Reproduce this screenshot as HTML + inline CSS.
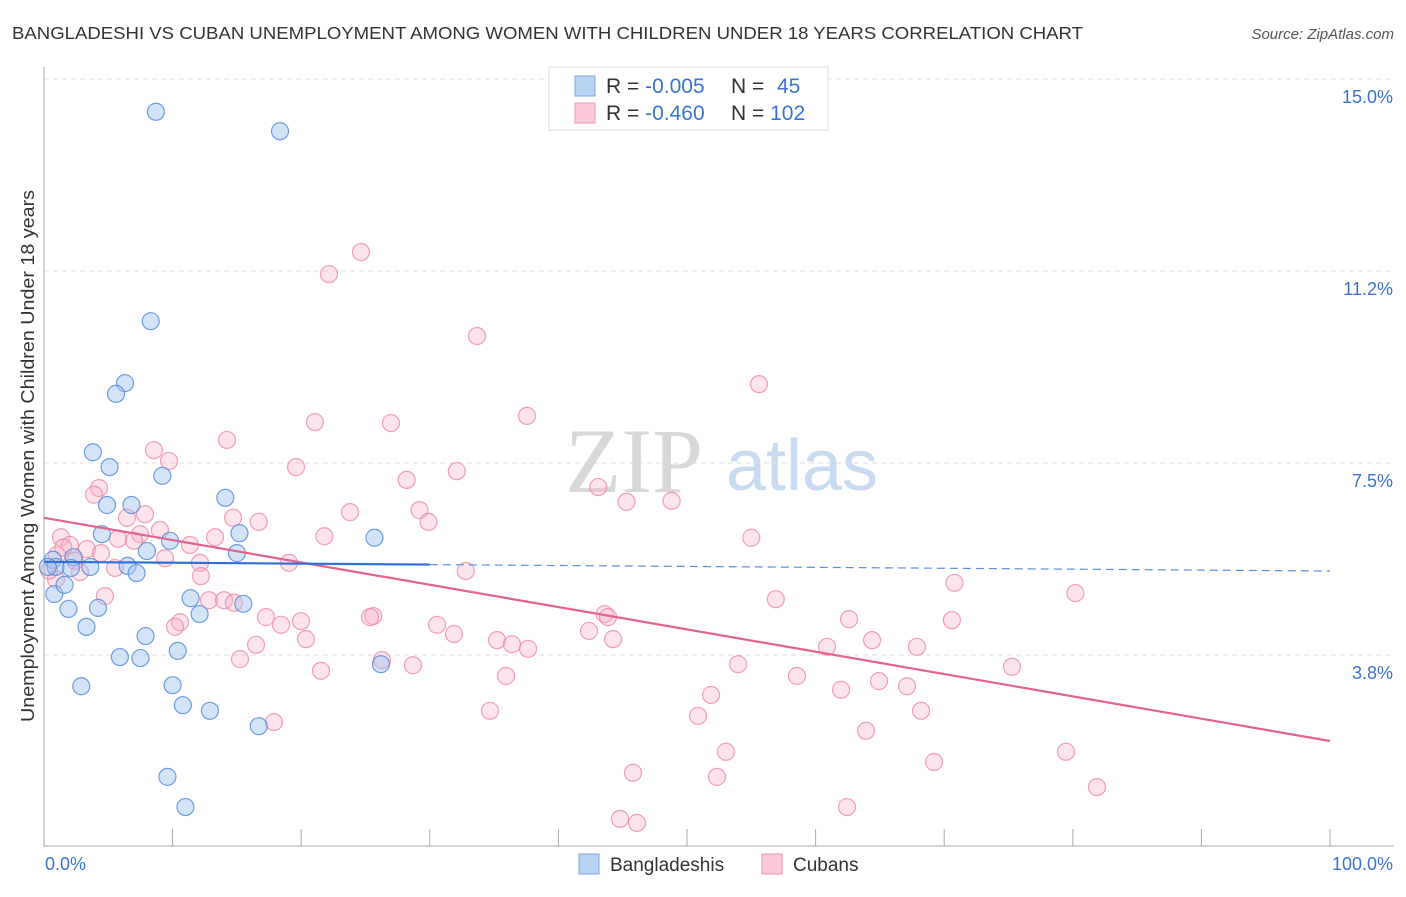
<!DOCTYPE html>
<html><head><meta charset="utf-8"><style>
body{margin:0;background:#fff;font-family:"Liberation Sans",sans-serif}
svg text{font-family:"Liberation Sans",sans-serif}
</style></head><body>
<svg id="c" width="1406" height="892" xmlns="http://www.w3.org/2000/svg">
<text x="12" y="39" font-size="17.5" fill="#333" textLength="1071" lengthAdjust="spacingAndGlyphs">BANGLADESHI VS CUBAN UNEMPLOYMENT AMONG WOMEN WITH CHILDREN UNDER 18 YEARS CORRELATION CHART</text>
<text x="1394" y="39" font-size="15" fill="#555" font-style="italic" text-anchor="end">Source: ZipAtlas.com</text>
<g>
<text x="634" y="492" font-size="92" fill="#d8d8d8" text-anchor="middle" style="font-family:'Liberation Serif',serif">ZIP</text>
<text x="802" y="490" font-size="72" fill="#c9dbf1" text-anchor="middle">atlas</text>
</g>
<g id="grid"></g>
<g id="axes"></g>
<g id="marks"></g>
<text transform="translate(34,456) rotate(-90)" font-size="18" fill="#333" text-anchor="middle" textLength="532" lengthAdjust="spacingAndGlyphs">Unemployment Among Women with Children Under 18 years</text>
<g>
<rect x="549" y="67" width="279" height="63" fill="#fff" stroke="#ddd"/>
<rect x="575" y="76" width="20" height="20" fill="#b9d3f3" stroke="#7aa7e4"/>
<rect x="575" y="103" width="20" height="20" fill="#fbcad8" stroke="#ee9ab3"/>
<text x="606" y="93" font-size="21" fill="#333">R = <tspan fill="#3a74d0">-0.005</tspan></text>
<text x="731" y="93" font-size="21" fill="#333">N = <tspan fill="#3a74d0" x="777">45</tspan></text>
<text x="606" y="120" font-size="21" fill="#333">R = <tspan fill="#3a74d0">-0.460</tspan></text>
<text x="731" y="120" font-size="21" fill="#333">N = <tspan fill="#3a74d0">102</tspan></text>
</g>
<g>
<rect x="579" y="854" width="20" height="20" fill="#b9d3f3" stroke="#7aa7e4"/>
<text x="610" y="871" font-size="19" fill="#333">Bangladeshis</text>
<rect x="762" y="854" width="20" height="20" fill="#fbcad8" stroke="#ee9ab3"/>
<text x="793" y="871" font-size="19" fill="#333">Cubans</text>
</g>
</svg>
<script>
const yTicks=[3.75,7.5,11.25,15];
const yTickLabels=["3.8%","7.5%","11.2%","15.0%"];
const xTicks=[0,10,20,30,40,50,60,70,80,90,100];
const bangX=[8.7,18.35,8.3,6.3,5.6,3.8,5.1,9.2,14.1,4.9,6.8,4.5,15.2,25.7,9.8,8.0,15.0,0.7,2.3,0.9,3.6,6.5,7.2,2.1,0.8,1.6,1.9,4.2,11.4,15.5,12.1,3.3,7.9,10.4,5.9,7.5,26.2,2.9,10.0,10.8,12.9,16.7,9.6,11.0,0.3];
const bangY=[14.36,13.98,10.27,9.06,8.85,7.71,7.42,7.25,6.82,6.68,6.68,6.11,6.13,6.04,5.98,5.78,5.74,5.61,5.66,5.47,5.47,5.49,5.35,5.45,4.94,5.12,4.65,4.67,4.86,4.75,4.55,4.30,4.12,3.83,3.71,3.69,3.57,3.14,3.16,2.77,2.66,2.36,1.37,0.78,5.47];
const cubX=[24.65,22.16,33.67,55.6,37.56,21.07,26.98,14.23,8.55,9.72,19.6,32.1,28.2,43.1,4.28,3.89,45.3,48.8,29.2,23.8,7.85,6.45,14.7,29.9,16.7,9.02,7.47,1.32,5.75,21.8,55.0,13.3,7.0,2.02,3.34,11.35,4.43,9.41,2.41,19.05,5.52,12.13,32.8,2.8,12.2,70.8,0.93,80.2,56.9,4.74,12.83,14.0,14.77,43.6,25.6,25.35,17.26,19.98,43.86,62.6,70.6,10.58,10.19,18.43,30.56,31.88,42.38,20.37,35.23,44.25,36.39,64.39,60.89,37.64,67.88,15.24,26.28,16.49,28.69,53.97,75.27,21.54,35.93,58.55,64.93,61.98,67.11,51.87,34.68,68.2,50.86,17.88,63.92,53.03,79.47,69.21,45.8,52.33,81.88,62.44,44.79,46.11,1.0,0.4,1.5];
const cubY=[11.62,11.19,9.98,9.04,8.42,8.30,8.28,7.95,7.75,7.54,7.42,7.34,7.17,7.03,7.01,6.88,6.74,6.76,6.58,6.54,6.50,6.43,6.43,6.35,6.35,6.19,6.11,6.05,6.02,6.07,6.04,6.05,5.98,5.90,5.82,5.90,5.74,5.64,5.59,5.55,5.45,5.55,5.39,5.37,5.29,5.16,5.23,4.96,4.84,4.90,4.82,4.82,4.77,4.55,4.51,4.49,4.49,4.41,4.49,4.45,4.43,4.39,4.30,4.34,4.34,4.16,4.22,4.06,4.04,4.06,3.96,4.04,3.91,3.87,3.91,3.67,3.65,3.95,3.55,3.57,3.52,3.44,3.34,3.34,3.24,3.07,3.14,2.97,2.66,2.66,2.56,2.44,2.27,1.86,1.86,1.66,1.45,1.37,1.17,0.78,0.55,0.47,5.7,5.4,5.85];
const bangTrend=[5.57,5.39];
const cubTrend=[6.43,2.07];
const X0=44,X1=1330,Y0=847,YPX=51.2;
function sx(v){return X0+(X1-X0)*v/100;}
function sy(v){return Y0-v*YPX;}
const NS="http://www.w3.org/2000/svg";
function mk(tag,attrs,parent){const e=document.createElementNS(NS,tag);for(const k in attrs)e.setAttribute(k,attrs[k]);parent.appendChild(e);return e;}
const grid=document.getElementById('grid'),axes=document.getElementById('axes'),marks=document.getElementById('marks');
yTicks.forEach((t,i)=>{
 const l=mk('line',{x1:X0,x2:1394,y1:sy(t),y2:sy(t),stroke:'#ddd','stroke-dasharray':'5,4'},grid);
 
 
 const tx=mk('text',{x:1393,y:sy(t)+24,'font-size':18,fill:'#3a74d0','text-anchor':'end'},axes);
 tx.textContent=yTickLabels[i];
 
 
});
const topl=mk('line',{x1:X0,x2:1394,y1:79,y2:79,stroke:'#ddd','stroke-dasharray':'5,4'},grid);


const ya=mk('line',{x1:X0,x2:X0,y1:67,y2:Y0,stroke:'#aaa'},axes);


const xa=mk('line',{x1:X0,x2:1394,y1:Y0-1,y2:Y0-1,stroke:'#aaa'},axes);


xTicks.forEach(t=>{
 const l=mk('line',{x1:sx(t),x2:sx(t),y1:Y0-1,y2:Y0-18,stroke:'#aaa'},axes);
 
 
});
const xl0=mk('text',{x:45,y:870,'font-size':18,fill:'#3a74d0'},axes);xl0.textContent='0.0%';


const xl1=mk('text',{x:1393,y:870,'font-size':18,fill:'#3a74d0','text-anchor':'end'},axes);xl1.textContent='100.0%';


cubX.forEach((v,i)=>{
 const c=mk('circle',{cx:sx(v),cy:sy(cubY[i]),r:8.5,fill:'rgba(248,175,197,0.35)',stroke:'rgba(236,130,162,0.75)','stroke-width':1.2},marks);
 
 
});
bangX.forEach((v,i)=>{
 const c=mk('circle',{cx:sx(v),cy:sy(bangY[i]),r:8.5,fill:'rgba(160,195,240,0.45)',stroke:'rgba(80,135,215,0.8)','stroke-width':1.2},marks);
 
 
});
const ct=mk('line',{x1:sx(0),y1:sy(cubTrend[0]),x2:sx(100),y2:sy(cubTrend[1]),stroke:'#e5628e','stroke-width':2.2},marks);


const bm=bangTrend[0]+(bangTrend[1]-bangTrend[0])*0.3;
const bt=mk('line',{x1:sx(0),y1:sy(bangTrend[0]),x2:sx(30),y2:sy(bm),stroke:'#2f6fd6','stroke-width':2.2},marks);


const bd=mk('line',{x1:sx(30),y1:sy(bm),x2:sx(100),y2:sy(bangTrend[1]),stroke:'#5b8fdc','stroke-width':1.2,'stroke-dasharray':'8,5'},marks);


</script>
</body></html>
